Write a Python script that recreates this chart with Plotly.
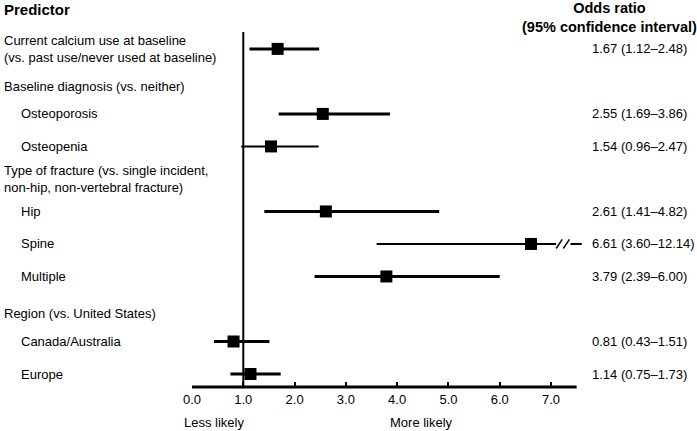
import plotly.graph_objects as go

# ---------------- data ----------------
ROW_LABELS = [
    "Current calcium use at baseline<br>(vs. past use/never used at baseline)",
    "Baseline diagnosis (vs. neither)",
    "Osteoporosis",
    "Osteopenia",
    "Type of fracture (vs. single incident,<br>non-hip, non-vertebral fracture)",
    "Hip",
    "Spine",
    "Multiple",
    "Region (vs. United States)",
    "Canada/Australia",
    "Europe",
]
LEVEL = [0, 0, 1, 1, 0, 1, 1, 1, 0, 1, 1]
ODDS = [1.67, None, 2.55, 1.54, None, 2.61, 6.61, 3.79, None, 0.81, 1.14]
CI_LOW = [1.12, None, 1.69, 0.96, None, 1.41, 3.60, 2.39, None, 0.43, 0.75]
CI_HIGH = [2.48, None, 3.86, 2.47, None, 4.82, 12.14, 6.00, None, 1.51, 1.73]
TICK_VALS = [0, 1, 2, 3, 4, 5, 6, 7]
TICK_TEXT = ["0.0", "1.0", "2.0", "3.0", "4.0", "5.0", "6.0", "7.0"]
REFERENCE = 1.0

# ---------------- layout constants ----------------
W, H = 697, 431
L, R, T, B = 192, 106, 32, 44
AXIS_END = 7.5
XMAX = 7.78
YRANGE = [10.4, -0.52]
FONT = "Arial, Liberation Sans, Helvetica, sans-serif"
LINE_W = [3, 0, 3, 2, 0, 3, 2, 3, 0, 3, 3]

plot_w = W - L - R
plot_h = H - T - B


def px_to_paper_x(px):
    return (px - L) / plot_w


def px_to_paper_y(py):
    return 1 - (py - T) / plot_h


fig = go.Figure()
shapes = []
annotations = []

for i, (o, lo, hi) in enumerate(zip(ODDS, CI_LOW, CI_HIGH)):
    if o is None:
        continue
    if hi > AXIS_END:
        # truncated interval with axis-break marks
        brk = AXIS_END - 0.4
        fig.add_trace(go.Scatter(x=[lo, brk], y=[i, i], mode="lines",
                                 line=dict(color="black", width=LINE_W[i]),
                                 hoverinfo="skip", showlegend=False))
        for k in range(2):
            xs = brk + k * 0.14
            shapes.append(dict(type="line", xref="x", yref="y",
                               x0=xs, y0=i + 0.14, x1=xs + 0.12, y1=i - 0.14,
                               line=dict(color="black", width=1.5)))
        fig.add_trace(go.Scatter(x=[brk + 0.28, AXIS_END + 0.1], y=[i, i], mode="lines",
                                 line=dict(color="black", width=LINE_W[i]),
                                 hoverinfo="skip", showlegend=False))
    else:
        fig.add_trace(go.Scatter(x=[lo, hi], y=[i, i], mode="lines",
                                 line=dict(color="black", width=LINE_W[i]),
                                 hoverinfo="skip", showlegend=False))
    fig.add_trace(go.Scatter(x=[o], y=[i], mode="markers",
                             marker=dict(symbol="square", size=12, color="black"),
                             hoverinfo="skip", showlegend=False, cliponaxis=False))

# reference line at OR = 1
shapes.append(dict(type="line", xref="x", yref="paper", x0=REFERENCE, x1=REFERENCE,
                   y0=0, y1=1, line=dict(color="black", width=2)))
# x axis line
shapes.append(dict(type="line", xref="x", yref="paper", x0=0, x1=AXIS_END,
                   y0=0, y1=0, line=dict(color="black", width=3)))

# row labels & OR text
for i, lab in enumerate(ROW_LABELS):
    x_px = 2 if LEVEL[i] == 0 else 19
    yshift = -5 if (ODDS[i] is None and "<br>" not in lab) else 0
    annotations.append(dict(text=lab, xref="paper", yref="y", x=px_to_paper_x(x_px), y=i,
                            xanchor="left", yanchor="middle", align="left",
                            showarrow=False, yshift=yshift,
                            font=dict(family=FONT, size=13, color="black")))
    if ODDS[i] is not None:
        txt = f"{ODDS[i]:.2f} ({CI_LOW[i]:.2f}\u2013{CI_HIGH[i]:.2f})"
        annotations.append(dict(text=txt, xref="paper", yref="y", x=px_to_paper_x(590), y=i,
                                xanchor="left", yanchor="middle", showarrow=False,
                                font=dict(family=FONT, size=13, color="black")))

# headers
annotations.append(dict(text="<b>Predictor</b>", xref="paper", yref="paper",
                        x=px_to_paper_x(2), y=px_to_paper_y(9), xanchor="left", yanchor="middle",
                        showarrow=False, font=dict(family=FONT, size=15, color="black")))
annotations.append(dict(text="<b>Odds ratio<br>(95% confidence interval)</b>", xref="paper", yref="paper",
                        x=px_to_paper_x(609), y=px_to_paper_y(17), xanchor="center", yanchor="middle",
                        align="center", showarrow=False,
                        font=dict(family=FONT, size=14.5, color="black")))

# bottom direction labels
annotations.append(dict(text="Less likely", xref="paper", yref="paper",
                        x=px_to_paper_x(214), y=px_to_paper_y(422), xanchor="center", yanchor="middle",
                        showarrow=False, font=dict(family=FONT, size=13, color="black")))
annotations.append(dict(text="More likely", xref="paper", yref="paper",
                        x=px_to_paper_x(421), y=px_to_paper_y(422), xanchor="center", yanchor="middle",
                        showarrow=False, font=dict(family=FONT, size=13, color="black")))

fig.update_layout(
    width=W, height=H,
    margin=dict(l=L, r=R, t=T, b=B, autoexpand=False),
    plot_bgcolor="white", paper_bgcolor="white",
    shapes=shapes, annotations=annotations,
    font=dict(family=FONT, size=13, color="black"),
    xaxis=dict(range=[0, XMAX], tickvals=TICK_VALS, ticktext=TICK_TEXT,
               ticks="inside", ticklen=5, tickwidth=2, tickcolor="black",
               ticklabelstandoff=3,
               showline=False, showgrid=False, zeroline=False,
               tickfont=dict(family=FONT, size=13, color="black")),
    yaxis=dict(range=YRANGE, visible=False, showgrid=False, zeroline=False),
)

fig.write_html("out.html", config={"displayModeBar": False},
               post_script="document.body.style.margin='0';document.body.style.overflow='hidden';")
